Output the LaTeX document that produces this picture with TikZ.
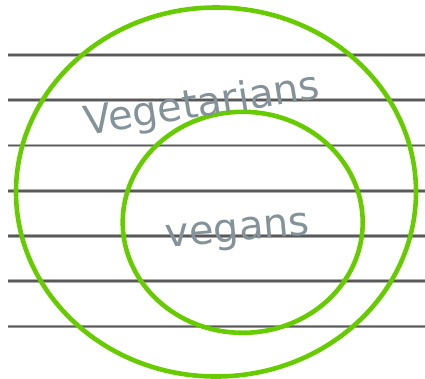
\documentclass[tikz,border=0pt]{standalone}
\usepackage{fontspec}
\setmainfont{DejaVu Sans}
\usetikzlibrary{shapes.geometric}
\definecolor{ringgreen}{RGB}{102,204,0}
\definecolor{inkgray}{RGB}{132,147,153}
\begin{document}
\begin{tikzpicture}[x=1pt,y=-1pt,
  ruleouter/.style={line width=3.4pt,draw=black!30},
  ruleinner/.style={line width=1.1pt,draw=black!65},
  ring/.style={line width=4.6pt,draw=ringgreen},
  ink/.style={text=inkgray,font=\fontsize{40}{40}\selectfont,inner sep=0pt}]
\useasboundingbox (0,0) rectangle (425,378);
\foreach \yy/\sh in {55/28,100/30,145.7/30,191/32,236/34,281/32,326.7/40}{
  \draw[ruleouter,draw=black!\sh] (8,\yy) -- (425,\yy);
  \draw[ruleinner] (8,\yy) -- (425,\yy);
}
\node[ring,ellipse,draw,minimum width=400pt,minimum height=369pt,inner sep=0pt] (outer) at (216,192) {};
\node[ring,ellipse,draw,minimum width=240pt,minimum height=221pt,inner sep=0pt] (inner) at (242.7,222.3) {};
\node[ink,rotate=9] (veg) at (202,106) {Vegetarians};
\node[ink,rotate=5] (vegan) at (238,234) {vegans};
\end{tikzpicture}
\end{document}
